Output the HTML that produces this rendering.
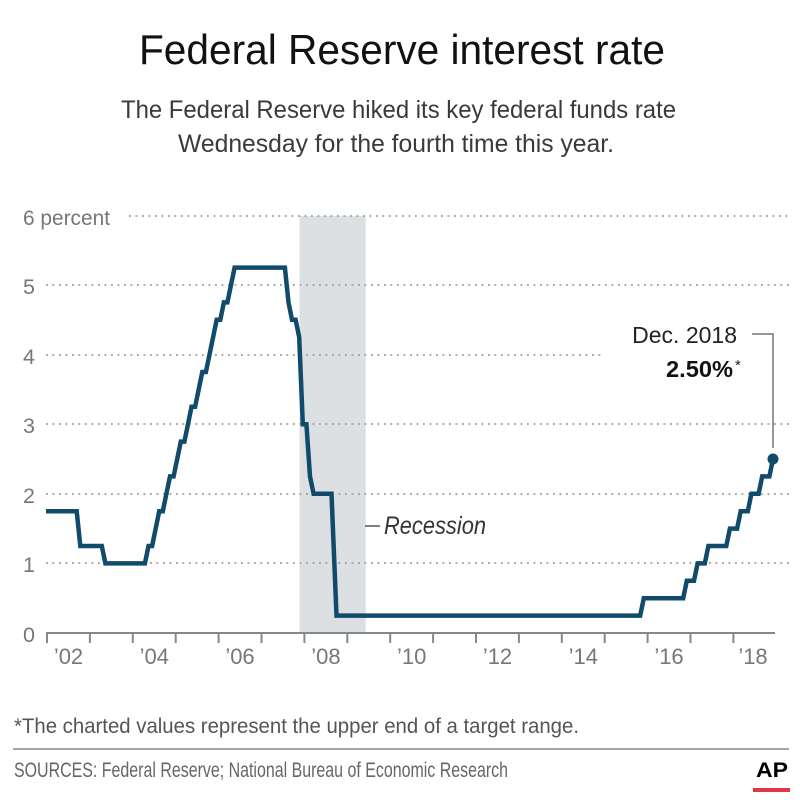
<!DOCTYPE html>
<html>
<head>
<meta charset="utf-8">
<style>
html,body{margin:0;padding:0;background:#fff;}
svg{display:block;}
text{font-family:"Liberation Sans",sans-serif;}
</style>
</head>
<body>
<svg width="800" height="800" viewBox="0 0 800 800" xmlns="http://www.w3.org/2000/svg">
<rect x="0" y="0" width="800" height="800" fill="#fff"/>

<!-- Title -->
<text x="139" y="64" font-size="42" fill="#111" textLength="526" lengthAdjust="spacingAndGlyphs">Federal Reserve interest rate</text>
<text x="121" y="118" font-size="25" fill="#3a3a3a" textLength="555" lengthAdjust="spacingAndGlyphs">The Federal Reserve hiked its key federal funds rate</text>
<text x="178" y="152" font-size="25" fill="#3a3a3a" textLength="436" lengthAdjust="spacingAndGlyphs">Wednesday for the fourth time this year.</text>

<!-- Recession shading -->
<rect x="299.5" y="216" width="66.2" height="417" fill="#dde0e3"/>

<!-- Gridlines -->
<g stroke="#9a9a9a" stroke-width="1.8" stroke-dasharray="1.8 4.7" fill="none">
  <line x1="129" y1="216" x2="790" y2="216"/>
  <line x1="46" y1="285" x2="790" y2="285"/>
  <line x1="46" y1="355" x2="602" y2="355"/>
  <line x1="46" y1="424" x2="790" y2="424"/>
  <line x1="46" y1="494" x2="790" y2="494"/>
  <line x1="46" y1="563" x2="790" y2="563"/>
</g>

<!-- Y labels -->
<g font-size="21.5" fill="#777">
  <text x="23" y="225" textLength="87" lengthAdjust="spacingAndGlyphs">6 percent</text>
  <text x="23" y="294">5</text>
  <text x="23" y="364">4</text>
  <text x="23" y="433">3</text>
  <text x="23" y="503">2</text>
  <text x="23" y="572">1</text>
  <text x="23" y="642">0</text>
</g>

<!-- X axis -->
<line x1="46" y1="633" x2="775" y2="633" stroke="#888" stroke-width="2"/>
<g stroke="#888" stroke-width="2">
  <line x1="47" y1="633" x2="47" y2="643"/>
  <line x1="89.9" y1="633" x2="89.9" y2="643"/>
  <line x1="132.8" y1="633" x2="132.8" y2="643"/>
  <line x1="175.7" y1="633" x2="175.7" y2="643"/>
  <line x1="218.6" y1="633" x2="218.6" y2="643"/>
  <line x1="261.5" y1="633" x2="261.5" y2="643"/>
  <line x1="304.4" y1="633" x2="304.4" y2="643"/>
  <line x1="347.3" y1="633" x2="347.3" y2="643"/>
  <line x1="390.2" y1="633" x2="390.2" y2="643"/>
  <line x1="433.1" y1="633" x2="433.1" y2="643"/>
  <line x1="476" y1="633" x2="476" y2="643"/>
  <line x1="518.9" y1="633" x2="518.9" y2="643"/>
  <line x1="561.8" y1="633" x2="561.8" y2="643"/>
  <line x1="604.7" y1="633" x2="604.7" y2="643"/>
  <line x1="647.6" y1="633" x2="647.6" y2="643"/>
  <line x1="690.5" y1="633" x2="690.5" y2="643"/>
  <line x1="733.4" y1="633" x2="733.4" y2="643"/>
</g>
<g font-size="22" fill="#777" text-anchor="middle">
  <text x="68.5" y="664">’02</text>
  <text x="154.3" y="664">’04</text>
  <text x="240" y="664">’06</text>
  <text x="325.9" y="664">’08</text>
  <text x="411.7" y="664">’10</text>
  <text x="497.5" y="664">’12</text>
  <text x="583.3" y="664">’14</text>
  <text x="669" y="664">’16</text>
  <text x="753" y="664">’18</text>
</g>

<!-- Recession label -->
<line x1="365" y1="526" x2="380" y2="526" stroke="#555" stroke-width="1.5"/>
<text x="384" y="534" font-size="25" font-style="italic" fill="#333" textLength="102" lengthAdjust="spacingAndGlyphs">Recession</text>

<!-- Series -->
<polyline fill="none" stroke="#114b6b" stroke-width="4.5" stroke-linejoin="miter" stroke-miterlimit="3" points="
46,511.2 76.7,511.2 80.3,546.0 101.8,546.0 105.4,563.4 144.9,563.4 148.5,546.0 152.1,546.0 155.7,528.6 159.2,511.2 162.8,511.2 166.4,493.8 170.0,476.4 173.6,476.4 177.2,459.0 180.8,441.6 184.4,441.6 188.0,424.2 191.5,406.8 195.1,406.8 198.7,389.4 202.3,372.0 205.9,372.0 209.5,354.6 213.1,337.2 216.7,319.8 220.3,319.8 223.9,302.4 227.4,302.4 231.0,285.0 234.6,267.6 284.9,267.6 288.5,302.4 292.0,319.8 295.6,319.8 299.2,337.2 302.8,424.2 306.4,424.2 310.0,476.4 313.6,493.8 331.5,493.8 336.5,615.6 640.2,615.6 643.8,598.2 683.2,598.2 686.8,580.8 694.0,580.8 697.6,563.4 704.8,563.4 708.4,546.0 726.3,546.0 729.9,528.6 737.1,528.6 740.7,511.2 747.8,511.2 751.4,493.8 758.6,493.8 762.2,476.4 769.4,476.4 773.0,459.0"/>
<circle cx="773" cy="459" r="5.5" fill="#114b6b"/>

<!-- Annotation -->
<polyline points="752,334 773,334 773,448" fill="none" stroke="#777" stroke-width="1.5"/>
<text x="737" y="343" font-size="23" fill="#222" text-anchor="end">Dec. 2018</text>
<text x="666" y="377" font-size="23" font-weight="bold" fill="#111" textLength="67" lengthAdjust="spacingAndGlyphs">2.50%</text>
<text x="735" y="370" font-size="15" fill="#222">*</text>

<!-- Footer -->
<text x="14" y="733" font-size="21" fill="#555" textLength="565" lengthAdjust="spacingAndGlyphs">*The charted values represent the upper end of a target range.</text>
<line x1="13" y1="749" x2="789" y2="749" stroke="#999" stroke-width="1.8"/>
<text x="14" y="777" font-size="21" fill="#666" textLength="494" lengthAdjust="spacingAndGlyphs">SOURCES: Federal Reserve; National Bureau of Economic Research</text>
<text x="756" y="777" font-size="21" font-weight="bold" fill="#000" textLength="32" lengthAdjust="spacingAndGlyphs">AP</text>
<rect x="753" y="788" width="37" height="4" fill="#e0364a"/>
</svg>
</body>
</html>
